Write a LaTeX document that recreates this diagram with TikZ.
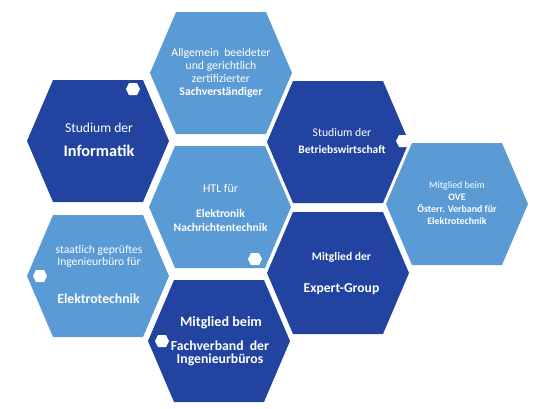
\documentclass[tikz,border=0pt]{standalone}
\usepackage{fontspec}
\setmainfont{Carlito}
\usepackage{tikz}
\usetikzlibrary{positioning}
\definecolor{wabedunkel}{RGB}{34,68,160}
\definecolor{wabehell}{RGB}{91,155,213}

\tikzset{
  wabentext/.style={text=white,align=center,inner sep=0pt},
}

\begin{document}
\begin{tikzpicture}[x=0.75pt,y=-0.75pt]
\useasboundingbox (0,0) rectangle (547,408);
% grosse Waben
\foreach \cx/\cy/\farbe in {221/73/wabehell, 98/141/wabedunkel, 338/142/wabedunkel, 220/207/wabehell,
                            457/204/wabehell, 98/276/wabehell, 338/273/wabedunkel, 219/341/wabedunkel}{
  \fill[\farbe] (\cx-71,\cy) -- (\cx-45,\cy-61) -- (\cx+45,\cy-61) -- (\cx+71,\cy)
               -- (\cx+45,\cy+61) -- (\cx-45,\cy+61) -- cycle;
}
% kleine weisse Waben
\foreach \cx/\cy in {133/89, 403/141, 255/259, 40/276, 162/341}{
  \fill[white] (\cx-7,\cy) -- (\cx-4,\cy-6) -- (\cx+4,\cy-6) -- (\cx+7,\cy)
               -- (\cx+4,\cy+6) -- (\cx-4,\cy+6) -- cycle;
}
% Texte
\node[wabentext,font=\fontsize{8.8}{9.75}\selectfont] (sachverst) at (221,72.5)
  {Allgemein\ \ beeideter\\und gerichtlich\\zertifizierter\\\textbf{Sachverständiger}};
\node[wabentext,font=\fontsize{10.2}{12}\selectfont] (studinf) at (99,128) {Studium der};
\node[wabentext,font=\fontsize{12.2}{14}\selectfont\bfseries] (informatik) at (99,151) {Informatik};
\node[wabentext,font=\fontsize{8.8}{10}\selectfont] (studbwl) at (342,132) {Studium der};
\node[wabentext,font=\fontsize{8.6}{10}\selectfont\bfseries] (bwl) at (342,150) {Betriebswirtschaft};
\node[wabentext,font=\fontsize{8.9}{10}\selectfont] (htl) at (220.5,188) {HTL für};
\node[wabentext,font=\fontsize{8.7}{10.5}\selectfont\bfseries] (elektronik) at (220.5,220)
  {Elektronik\\Nachrichtentechnik};
\node[wabentext,font=\fontsize{7.4}{9}\selectfont] (ove) at (457,203.5)
  {Mitglied beim\\\textbf{OVE}\\\textbf{Österr. Verband für}\\\textbf{Elektrotechnik}};
\node[wabentext,font=\fontsize{8.7}{9}\selectfont] (ingbuero) at (99,256)
  {staatlich geprüftes\\Ingenieurbüro für};
\node[wabentext,font=\fontsize{10.3}{12}\selectfont\bfseries] (elektrotechnik) at (98.5,299) {Elektrotechnik};
\node[wabentext,font=\fontsize{8.7}{10}\selectfont\bfseries] (mitgliedder) at (341.5,257) {Mitglied der};
\node[wabentext,font=\fontsize{10.2}{12}\selectfont\bfseries] (expert) at (341.5,289) {Expert-Group};
\node[wabentext,font=\fontsize{10.6}{12}\selectfont\bfseries] (mitgliedbeim) at (221,323) {Mitglied beim};
\node[wabentext,font=\fontsize{10.3}{9.75}\selectfont\bfseries] (fachverband) at (220,353.5)
  {Fachverband\ \ der\\Ingenieurbüros};
\end{tikzpicture}
\end{document}
